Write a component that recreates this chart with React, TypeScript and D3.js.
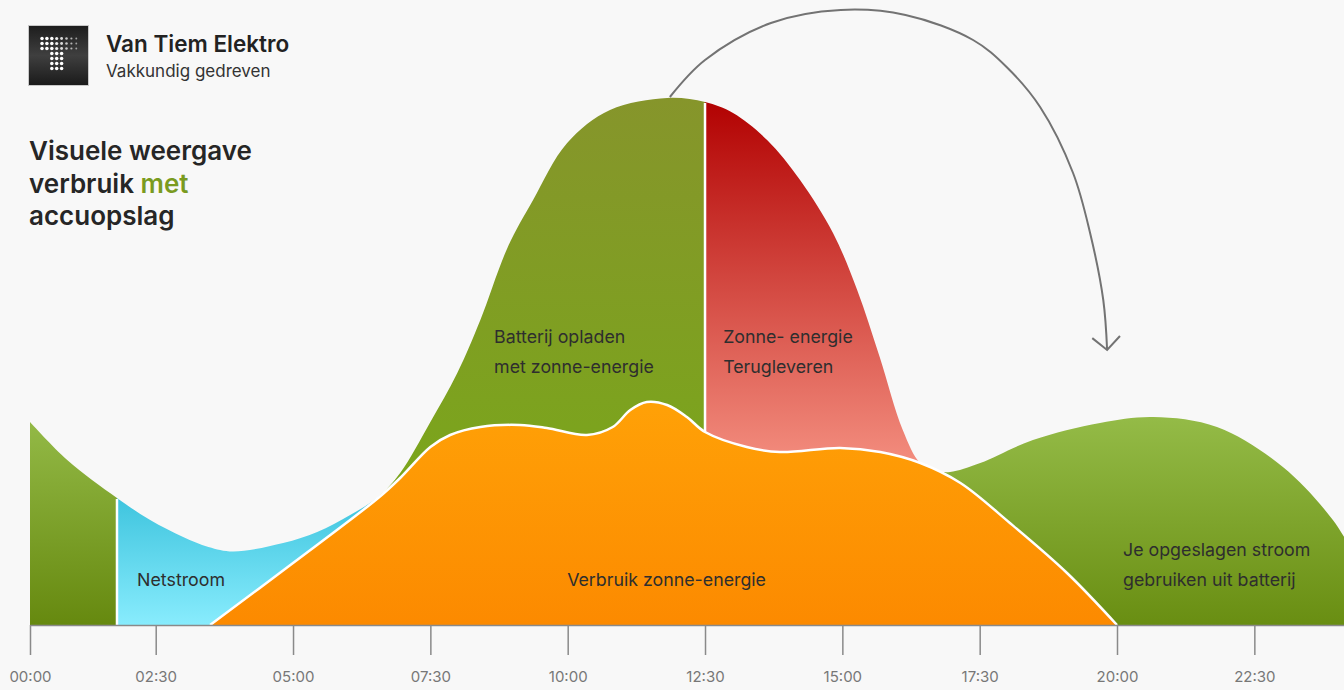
import React, { useEffect, useRef } from 'react';
import * as d3 from 'd3';

// hour of the day -> kW
const envelopeHours = [0, 0.74, 1.73, 2.39, 3.0, 3.46, 3.91, 4.82, 5.44, 6.04, 6.55, 6.95, 7.49, 7.99, 8.41, 8.91, 9.37, 9.99, 10.77, 11.81, 12.5, 13.01, 13.63, 14.23, 14.83, 15.27, 15.68, 16.1, 16.42, 16.75, 16.96, 17.51, 18.47, 19.69, 20.66, 21.82, 23.02, 23.93, 24.3];
const envelopeValues = [2.03, 1.65, 1.27, 1.05, 0.88, 0.78, 0.735, 0.82, 0.93, 1.1, 1.28, 1.52, 2.02, 2.52, 3.05, 3.78, 4.25, 4.82, 5.15, 5.27, 5.23, 5.12, 4.85, 4.45, 3.92, 3.35, 2.68, 1.95, 1.62, 1.54, 1.53, 1.62, 1.85, 2.02, 2.08, 1.98, 1.58, 1.05, 0.72];

const solarHours = [3.49, 5.0, 6.55, 6.95, 7.5, 7.86, 8.41, 9.13, 9.62, 10.35, 10.82, 11.14, 11.44, 11.81, 12.17, 12.5, 13.26, 13.86, 14.96, 15.69, 16.42, 17.15, 18.05, 19.09, 20.0];
const solarValues = [0, 0.62, 1.27, 1.47, 1.78, 1.9, 1.98, 2.0, 1.97, 1.9, 1.98, 2.15, 2.23, 2.2, 2.08, 1.93, 1.78, 1.73, 1.77, 1.73, 1.62, 1.42, 1.02, 0.52, 0];

// parts of the day between the solar line and the envelope
const regionStarts = [0, 1.73, 6.55, 12.5, 16.6];
const regionEnds = [1.73, 6.55, 12.5, 16.6, 24.5];
const regionTop = ['#93b946', '#3ec4de', '#86952b', '#b20202', '#94bb47'];
const regionBottom = ['#66890f', '#88ecfd', '#7aa61b', '#f38d7e', '#698e12'];
const regionToBase = [true, true, false, false, true];
const dividerHours = [1.73, 12.5];

const tickHours = [0, 2.5, 5, 7.5, 10, 12.5, 15, 17.5, 20, 22.5];
const tickLabels = ['00:00', '02:30', '05:00', '07:30', '10:00', '12:30', '15:00', '17:30', '20:00', '22:30'];

const labelTexts = ['Netstroom', 'Verbruik zonne-energie', 'Batterij opladen', 'met zonne-energie', 'Zonne- energie', 'Terugleveren', 'Je opgeslagen stroom', 'gebruiken uit batterij'];
const labelHours = [2.13, 9.99, 8.66, 8.66, 12.83, 12.83, 20.11, 20.11];
const labelValues = [0.39, 0.39, 2.82, 2.52, 2.82, 2.52, 0.69, 0.39];

const arrowHours = [11.86, 12.5, 13.7, 14.97, 16.15, 17.38, 17.99, 18.6, 19.2, 19.51, 19.75, 19.82];
const arrowValues = [5.28, 5.65, 6.02, 6.15, 6.1, 5.85, 5.58, 5.18, 4.52, 3.92, 3.25, 2.75];

type P = { h: number; v: number };

const App: React.FC = () => {
    const svgRef = useRef<SVGSVGElement>(null);

    useEffect(() => {
        const width = 1344;
        const height = 690;
        const font = 'Inter, "Noto Sans", sans-serif';

        const svg = d3.select(svgRef.current);
        svg.selectAll('*').remove();
        svg.attr('width', width).attr('height', height);

        const x = d3.scaleLinear().domain([0, 2.5, 24.5]).range([30, 155.7, 1364.2]);
        const y = d3.scaleLinear().domain([0, 5.5]).range([625, 75]);

        const envelope: P[] = envelopeHours.map((h, i) => ({ h, v: envelopeValues[i] }));
        const solar: P[] = solarHours.map((h, i) => ({ h, v: solarValues[i] }));

        const area = d3.area<P>()
            .x(d => x(d.h))
            .y0(y(0))
            .y1(d => y(d.v))
            .curve(d3.curveCatmullRom.alpha(0.5));
        const line = d3.line<P>()
            .x(d => x(d.h))
            .y(d => y(d.v))
            .curve(d3.curveCatmullRom.alpha(0.5));

        svg.append('rect').attr('width', width).attr('height', height).attr('fill', '#f8f8f8');

        const defs = svg.append('defs');

        // coloured parts of the envelope
        regionStarts.forEach((start, i) => {
            const inside = envelope.filter(d => d.h >= start && d.h <= regionEnds[i]);
            const top = y(d3.max(inside, d => d.v) || 0);
            const bottom = regionToBase[i] ? y(0) : y(d3.min(inside, d => d.v) || 0);
            const grad = defs.append('linearGradient')
                .attr('id', `reg-grad-${i}`)
                .attr('gradientUnits', 'userSpaceOnUse')
                .attr('x1', 0).attr('x2', 0)
                .attr('y1', top).attr('y2', bottom);
            grad.append('stop').attr('offset', '0%').attr('stop-color', regionTop[i]);
            grad.append('stop').attr('offset', '100%').attr('stop-color', regionBottom[i]);

            defs.append('clipPath').attr('id', `reg-clip-${i}`)
                .append('rect')
                .attr('x', x(start))
                .attr('y', 0)
                .attr('width', x(regionEnds[i]) - x(start))
                .attr('height', height);

            svg.append('path')
                .datum(envelope)
                .attr('d', area)
                .attr('fill', `url(#reg-grad-${i})`)
                .attr('clip-path', `url(#reg-clip-${i})`);
        });

        // white dividers between the parts
        dividerHours.forEach(h => {
            const v = envelopeValues[envelopeHours.indexOf(h)];
            svg.append('line')
                .attr('x1', x(h)).attr('x2', x(h))
                .attr('y1', y(0)).attr('y2', y(v) + 1)
                .attr('stroke', '#ffffff')
                .attr('stroke-width', 2.5);
        });

        // solar consumption
        const orange = defs.append('linearGradient')
            .attr('id', 'solar-grad')
            .attr('gradientUnits', 'userSpaceOnUse')
            .attr('x1', 0).attr('x2', 0)
            .attr('y1', y(d3.max(solarValues) || 0)).attr('y2', y(0));
        orange.append('stop').attr('offset', '0%').attr('stop-color', '#ffa107');
        orange.append('stop').attr('offset', '100%').attr('stop-color', '#fc8a00');

        svg.append('path')
            .datum(solar)
            .attr('d', area)
            .attr('fill', 'url(#solar-grad)');
        svg.append('path')
            .datum(solar)
            .attr('d', line)
            .attr('fill', 'none')
            .attr('stroke', '#ffffff')
            .attr('stroke-width', 2.5);

        // labels in the areas
        labelTexts.forEach((t, i) => {
            svg.append('text')
                .attr('x', x(labelHours[i]))
                .attr('y', y(labelValues[i]))
                .attr('font-family', font)
                .attr('font-size', 17.8)
                .attr('fill', '#2e2e2e')
                .text(t);
        });

        // X axis
        const axis = svg.append('g')
            .attr('transform', `translate(0,${y(0)})`)
            .call(d3.axisBottom(x)
                .tickValues(tickHours)
                .tickFormat((d, i) => tickLabels[i])
                .tickSize(30)
                .tickSizeOuter(0)
                .tickPadding(16));
        axis.select('.domain').attr('stroke', '#8a8a8a').attr('stroke-width', 1.5);
        axis.selectAll('.tick line').attr('stroke', '#8a8a8a').attr('stroke-width', 1.5);
        axis.selectAll('.tick text')
            .attr('font-family', font)
            .attr('font-size', 15)
            .attr('fill', '#777777');

        // arrow from the peak to the evening
        const arrowPts: [number, number][] = arrowHours.map((h, i) => [x(h), y(arrowValues[i])]);
        svg.append('path')
            .attr('d', d3.line().curve(d3.curveCatmullRom.alpha(0.5))(arrowPts))
            .attr('fill', 'none')
            .attr('stroke', '#737373')
            .attr('stroke-width', 2);
        const tip = arrowPts[arrowPts.length - 1];
        const prev = arrowPts[arrowPts.length - 2];
        const ang = Math.atan2(prev[1] - tip[1], prev[0] - tip[0]);
        const arm = 19;
        const spread = (47 * Math.PI) / 180;
        svg.append('path')
            .attr('d', `M${tip[0] + arm * Math.cos(ang - spread)},${tip[1] + arm * Math.sin(ang - spread)}L${tip[0]},${tip[1]}L${tip[0] + arm * Math.cos(ang + spread)},${tip[1] + arm * Math.sin(ang + spread)}`)
            .attr('fill', 'none')
            .attr('stroke', '#737373')
            .attr('stroke-width', 2);

        // logo
        const logoGrad = defs.append('linearGradient')
            .attr('id', 'logo-grad')
            .attr('x1', 0).attr('x2', 0).attr('y1', 0).attr('y2', 1);
        logoGrad.append('stop').attr('offset', '0%').attr('stop-color', '#1d1d1d');
        logoGrad.append('stop').attr('offset', '50%').attr('stop-color', '#3f3f3f');
        logoGrad.append('stop').attr('offset', '100%').attr('stop-color', '#1a1a1a');
        svg.append('rect')
            .attr('x', 28.5).attr('y', 25.5)
            .attr('width', 60).attr('height', 60)
            .attr('fill', 'url(#logo-grad)')
            .attr('stroke', '#c8c8c8')
            .attr('stroke-width', 1);
        const dots = svg.append('g');
        for (let r = 0; r < 7; r++) {
            for (let c = 0; c < 8; c++) {
                const inBar = r < 3;
                const inStem = c >= 2 && c <= 4;
                if (!inBar && !inStem) continue;
                const fade = inBar ? Math.max(0, (c - 2) / 5) : 0;
                dots.append('circle')
                    .attr('cx', 42 + c * 4.9)
                    .attr('cy', 38.5 + r * 5)
                    .attr('r', 1.75 - fade * 0.8)
                    .attr('fill', '#ffffff')
                    .attr('opacity', 1 - fade * 0.45);
            }
        }

        svg.append('text')
            .attr('x', 106).attr('y', 52)
            .attr('font-family', font)
            .attr('font-weight', 600)
            .attr('font-size', 22.5)
            .attr('fill', '#222222')
            .text('Van Tiem Elektro');
        svg.append('text')
            .attr('x', 106).attr('y', 77)
            .attr('font-family', font)
            .attr('font-size', 17)
            .attr('fill', '#333333')
            .text('Vakkundig gedreven');

        // title
        const title = svg.append('text')
            .attr('font-family', font)
            .attr('font-weight', 600)
            .attr('font-size', 26)
            .attr('fill', '#262626');
        title.append('tspan').attr('x', 29).attr('y', 160).text('Visuele weergave');
        const l2 = title.append('tspan').attr('x', 29).attr('y', 193);
        l2.append('tspan').text('verbruik ');
        l2.append('tspan').attr('fill', '#7a9b1f').text('met');
        title.append('tspan').attr('x', 29).attr('y', 225).text('accuopslag');
    }, []);

    return <svg ref={svgRef} style={{ position: 'absolute', left: 0, top: 0, display: 'block' }}></svg>;
};

export default App;
